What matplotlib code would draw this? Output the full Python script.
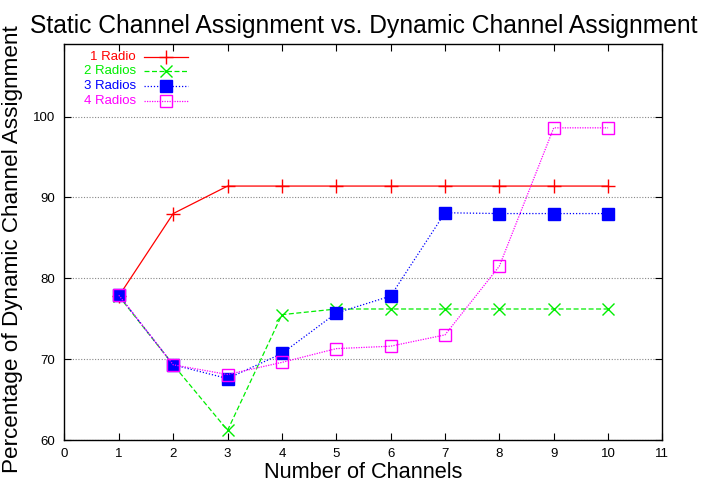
import numpy as np
import matplotlib
matplotlib.use("Agg")
import matplotlib.pyplot as plt
from matplotlib.lines import Line2D

plt.rcParams["font.family"] = ["Liberation Sans", "DejaVu Sans"]

channels = [1, 2, 3, 4, 5, 6, 7, 8, 9, 10]
radio1 = [77.8, 88.0, 91.4, 91.4, 91.4, 91.4, 91.4, 91.4, 91.4, 91.4]
radio2 = [77.8, 69.3, 61.2, 75.5, 76.2, 76.2, 76.2, 76.2, 76.2, 76.2]
radio3 = [77.9, 69.3, 67.6, 70.7, 75.7, 77.8, 88.1, 88.0, 88.0, 88.0]
radio4 = [77.9, 69.3, 68.1, 69.6, 71.3, 71.6, 73.0, 81.5, 98.6, 98.6]
labels = ["1 Radio", "2 Radios", "3 Radios", "4 Radios"]

styles = [
    dict(color="#ff0000", linestyle="-", marker="+", markersize=10, mew=1.0),
    dict(color="#00ee00", linestyle=(0, (4, 2)), marker="x", markersize=9, mew=1.0),
    dict(color="#0000ff", linestyle=(0, (1, 1.5)), marker="s", markersize=8.5, mew=1.0),
    dict(color="#ff00ff", linestyle=(0, (1, 1)), marker="s", markersize=8.5, mew=1.0,
         markerfacecolor="none"),
]

fig = plt.figure(figsize=(7.01, 4.82), dpi=100)
ax = fig.add_axes([0.092, 0.0871, 0.853, 0.8222])

series = [radio1, radio2, radio3, radio4]
for values, st in zip(series, styles):
    ax.plot(channels, values, linewidth=0.9, **st)

ax.set_xlim(0, 11)
ax.set_ylim(60, 109)
ax.set_xticks(range(0, 12))
ax.set_yticks([60, 70, 80, 90, 100])
ax.tick_params(direction="in", length=5, width=0.8, top=True, right=True, labelsize=9.5)
ax.tick_params(axis="y", pad=7)
ax.tick_params(axis="x", pad=6)
ax.yaxis.grid(True, color="#888888", linestyle=(0, (1, 1.5)), linewidth=0.8)
for sp in ax.spines.values():
    sp.set_linewidth(1.0)

ax.set_title("Static Channel Assignment vs. Dynamic Channel Assignment", fontsize=17.7, pad=8)
ax.set_xlabel("Number of Channels", fontsize=15.7, labelpad=1)
ax.set_ylabel("Percentage of Dynamic Channel Assignment", fontsize=16.2)
ax.yaxis.set_label_coords(-0.0694, 0.482)

# gnuplot-style key: text right-aligned, sample line to the right
w, h = 598.2, 396.3
def fx(px):
    return (px - 64.5) / w
def fy(py):
    return (440 - py) / h

rows = [57.3, 71.0, 86.0, 100.5]
for lab, st, py in zip(labels, styles, rows):
    ax.text(fx(136), fy(py), lab, transform=ax.transAxes, ha="right", va="center",
            fontsize=9.5, color=st["color"])
    ax.add_line(Line2D([fx(144), fx(188)], [fy(py), fy(py)], transform=ax.transAxes,
                       color=st["color"], linestyle=st["linestyle"], linewidth=0.9))
    mk = {k: v for k, v in st.items() if k not in ("linestyle",)}
    ax.add_line(Line2D([fx(166)], [fy(py)], transform=ax.transAxes, linestyle="none", **mk))

fig.savefig("out.png", dpi=100)
